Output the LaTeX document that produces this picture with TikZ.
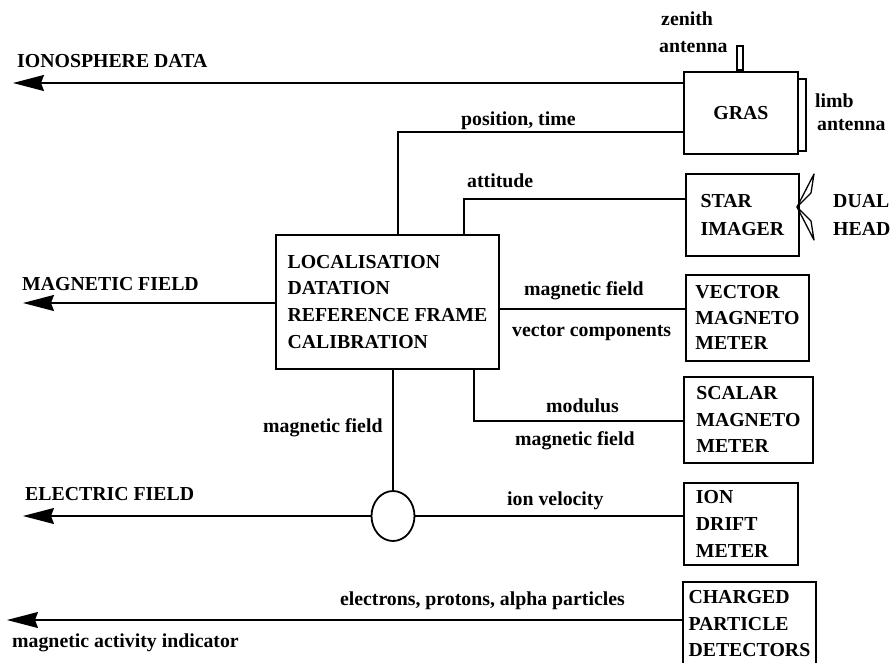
\documentclass[tikz,border=0pt]{standalone}
\usepackage{fontspec}
\setmainfont{Liberation Serif}
\usetikzlibrary{arrows.meta,shapes.geometric,calc}
\begin{document}
\begin{tikzpicture}[x=1pt,y=-1pt,
  font=\fontsize{19.8}{26.5}\selectfont\bfseries,
  box/.style={draw, line width=1.8pt, rectangle, inner ysep=0pt, inner xsep=0pt, align=left, anchor=north west},
  conn/.style={line width=1.4pt},
  arr/.style={conn, -{Stealth[length=31pt,width=16pt,inset=3pt]}},
  lbl/.style={anchor=base west, inner sep=0pt},
  ant/.style={draw, line width=1.6pt, inner sep=0pt}]
\useasboundingbox (0,0) rectangle (891,662);

% boxes
\node[box, minimum width=114pt, minimum height=82pt] (gras) at (683,71) {GRAS};
\node[box, minimum width=113pt, minimum height=82pt, font=\fontsize{19.8}{27.5}\selectfont\bfseries] (star) at (685,173) {STAR\\IMAGER};
\node[box, minimum width=123pt, minimum height=86pt, font=\fontsize{19.8}{25.5}\selectfont\bfseries] (vec) at (685,274) {VECTOR\\MAGNETO\\METER};
\node[box, minimum width=129pt, minimum height=86pt] (sca) at (683,376) {SCALAR\\MAGNETO\\METER};
\node[box, minimum width=114pt, minimum height=82pt, text width=90pt, inner xsep=12pt, font=\fontsize{19.8}{27}\selectfont\bfseries] (ion) at (683,482) {ION\\DRIFT\\METER};
\node[box, minimum width=133pt, minimum height=84pt] (chg) at (682,581) {CHARGED\\PARTICLE\\DETECTORS};
\node[box, minimum width=223pt, minimum height=134pt, font=\fontsize{19.8}{26.8}\selectfont\bfseries] (cen) at (275,234) {LOCALISATION\\DATATION\\REFERENCE FRAME\\CALIBRATION};
\node[draw, ellipse, line width=1.8pt, minimum width=43pt, minimum height=50pt, inner sep=0pt] (circ) at (393,516) {};

% antennas
\node[ant, minimum width=6pt, minimum height=24pt, anchor=south] (zen) at (740,71) {};
\node[ant, minimum width=8pt, minimum height=72pt, anchor=north west] (limb) at (797,78) {};
\coordinate (dh) at (797,207);
\draw[line width=1.3pt, line join=round] (dh) -- (814,174) -- (811,193) -- cycle;
\draw[line width=1.3pt, line join=round] (dh) -- (814,240) -- (811,221) -- cycle;

% free ends and bends
\coordinate (ionotip) at (13,83);
\coordinate (magtip) at (23,303);
\coordinate (eltip) at (23,516);
\coordinate (chtip) at (7,620);
\coordinate (posbend) at (398,132);
\coordinate (attbend) at (464,199);
\coordinate (vecy) at (600,309);
\coordinate (modbend) at (474,421);

% connectors
\draw[arr] (gras.west |- ionotip) -- (ionotip);
\draw[conn] (cen.north -| posbend) -- (posbend) -- (gras.west |- posbend);
\draw[conn] (cen.north -| attbend) -- (attbend) -- (star.west |- attbend);
\draw[arr] (cen.west |- magtip) -- (magtip);
\draw[conn] (cen.east |- vecy) -- (vec.west |- vecy);
\draw[conn] (cen.south -| modbend) -- (modbend) -- (sca.west |- modbend);
\draw[conn] (cen.south -| circ.north) -- (circ.north);
\draw[arr] (circ.west) -- (eltip);
\draw[conn] (circ.east) -- (ion.west |- circ.east);
\draw[arr] (chg.west |- chtip) -- (chtip);

% labels
\node[lbl] (l1) at (17,67) {IONOSPHERE DATA};
\node[lbl] (l2) at (22,290) {MAGNETIC FIELD};
\node[lbl] (l3) at (25,500) {ELECTRIC FIELD};
\node[lbl] (l4) at (12,647) {magnetic activity indicator};
\node[lbl, anchor=base east] (l5) at (625,605) {electrons, protons, alpha particles};
\node[lbl] (l6) at (507,505) {ion velocity};
\node[lbl] (l7) at (461,125) {position, time};
\node[lbl] (l8) at (467,187) {attitude};
\node[lbl] (l9) at (524,295) {magnetic field};
\node[lbl] (l10) at (512,336) {vector components};
\node[lbl] (l11) at (546,412) {modulus};
\node[lbl] (l12) at (515,445) {magnetic field};
\node[lbl] (l13) at (263,432) {magnetic field};
\node[lbl] (l14) at (661,25) {zenith};
\node[lbl] (l15) at (659,52) {antenna};
\node[lbl] (l16) at (815,107) {limb};
\node[lbl] (l17) at (817,130) {antenna};
\node[lbl] (l18) at (833,207) {DUAL};
\node[lbl] (l19) at (833,235) {HEAD};
\end{tikzpicture}
\end{document}
